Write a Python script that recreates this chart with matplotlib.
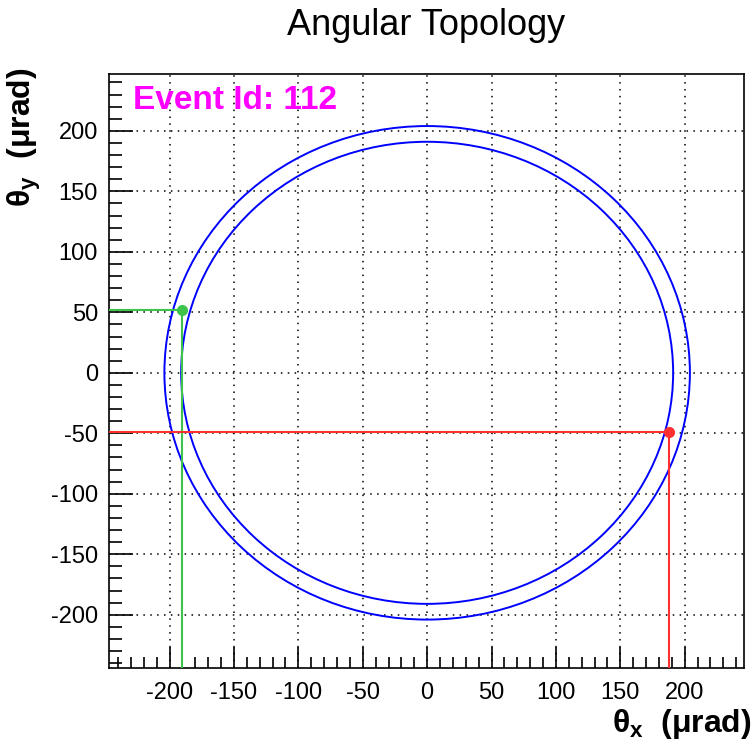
import matplotlib
matplotlib.use('Agg')
import matplotlib.pyplot as plt
from matplotlib.patches import Circle
import numpy as np

# ring radii (urad)
ring_radii = [204, 191]

# the two hits: x, y (urad)
hit_labels = ['green', 'red']
hit_x = [-190, 188]
hit_y = [52, -49]
hit_colors = ['#3ec34a', '#ff3030']

event_id = 112

x_range = (-247, 246)
y_range = (-244, 247)
major_ticks = np.arange(-200, 201, 50)

plt.rcParams['font.family'] = ['Liberation Sans', 'DejaVu Sans']
plt.rcParams['axes.unicode_minus'] = False
plt.rcParams['mathtext.fontset'] = 'custom'
plt.rcParams['mathtext.rm'] = 'Liberation Sans:bold'
plt.rcParams['mathtext.it'] = 'Liberation Sans:bold'
plt.rcParams['mathtext.bf'] = 'Liberation Sans:bold'

fig = plt.figure(figsize=(7.55, 7.47), dpi=100)
ax = fig.add_axes([0.1444, 0.1058, 0.8410, 0.7951])

for r in ring_radii:
    ax.add_patch(Circle((0, 0), r, fill=False, edgecolor='#0000ff', linewidth=1.4, zorder=3))

for hx, hy, c in zip(hit_x, hit_y, hit_colors):
    ax.plot([x_range[0], hx], [hy, hy], color=c, linewidth=1.5, zorder=4)
    ax.plot([hx, hx], [hy, y_range[0]], color=c, linewidth=1.5, zorder=4)
    ax.plot([hx], [hy], 'o', color=c, markersize=7, zorder=5)

ax.set_xlim(*x_range)
ax.set_ylim(*y_range)
ax.set_xticks(major_ticks)
ax.set_yticks(major_ticks)
ax.set_xticks(np.arange(-240, 241, 10), minor=True)
ax.set_yticks(np.arange(-240, 241, 10), minor=True)
ax.grid(True, which='major', color='black', linestyle=(0, (1, 3.5)), linewidth=1.1)
ax.set_axisbelow(True)

ax.tick_params(axis='both', which='both', direction='in', labelsize=17, colors='black')
ax.tick_params(axis='y', which='major', length=17, width=1.2, pad=8)
ax.tick_params(axis='y', which='minor', length=9, width=1.2)
ax.tick_params(axis='x', which='major', length=15, width=1.2, pad=10)
ax.tick_params(axis='x', which='minor', length=8, width=1.2)
for s in ax.spines.values():
    s.set_linewidth(1.2)

ax.text(0.038, 0.955, f'Event Id: {event_id}', transform=ax.transAxes, color='#ff00ff',
        fontsize=24, fontweight='bold', ha='left', va='center')

fig.text(0.565, 0.966, 'Angular Topology', ha='center', va='center', fontsize=26)
fig.text(0.995, 0.020, r'$\theta_{x}$  (μrad)', ha='right', va='baseline', fontsize=23,
         fontweight='bold')
fig.text(0.032, 0.910, r'$\theta_{y}$  (μrad)', ha='center', va='top', rotation=90,
         fontsize=23, fontweight='bold')

fig.savefig('out.png', dpi=100)
